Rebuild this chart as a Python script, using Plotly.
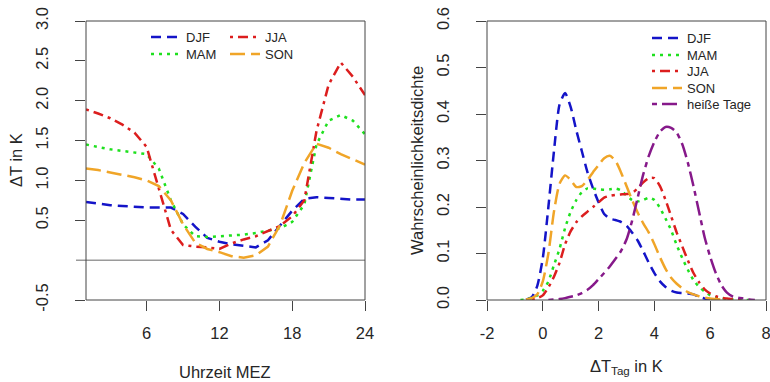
import plotly.graph_objects as go

# ---------------- data: left panel (diurnal cycle) ----------------
hours = list(range(1, 25))
djf_day = [0.73, 0.71, 0.69, 0.68, 0.67, 0.66, 0.66, 0.66, 0.58, 0.42, 0.28, 0.23,
           0.20, 0.18, 0.16, 0.25, 0.44, 0.62, 0.77, 0.79, 0.78, 0.77, 0.76, 0.76]
mam_day = [1.45, 1.42, 1.39, 1.37, 1.35, 1.33, 1.15, 0.75, 0.45, 0.30, 0.29, 0.30,
           0.31, 0.32, 0.34, 0.37, 0.40, 0.48, 0.70, 1.45, 1.75, 1.82, 1.75, 1.58]
jja_day = [1.89, 1.84, 1.78, 1.70, 1.60, 1.42, 0.90, 0.38, 0.19, 0.17, 0.16, 0.14,
           0.21, 0.26, 0.30, 0.36, 0.43, 0.55, 0.75, 1.62, 2.20, 2.48, 2.30, 2.07]
son_day = [1.15, 1.13, 1.10, 1.07, 1.04, 1.00, 0.93, 0.75, 0.45, 0.22, 0.14, 0.10,
           0.05, 0.03, 0.06, 0.17, 0.44, 0.87, 1.22, 1.46, 1.41, 1.33, 1.27, 1.20]

# ---------------- data: right panel (density) ----------------
dT = [-0.8, -0.6, -0.4, -0.2, 0.0, 0.2, 0.4, 0.6, 0.8, 1.0, 1.2, 1.4, 1.6, 1.8,
      2.0, 2.2, 2.4, 2.6, 2.8, 3.0, 3.2, 3.4, 3.6, 3.8, 4.0, 4.2, 4.4, 4.6, 4.8,
      5.0, 5.2, 5.4, 5.6, 5.8, 6.0, 6.2, 6.4, 6.6, 6.8, 7.0, 7.2, 7.4, 7.6]
djf_pdf = [None, 0.001, 0.006, 0.03, 0.09, 0.20, 0.32, 0.42, 0.445, 0.415, 0.365, 0.32,
           0.275, 0.24, 0.21, 0.185, 0.175, 0.172, 0.168, 0.16, 0.145, 0.128, 0.105,
           0.08, 0.058, 0.04, 0.028, 0.02, 0.016, 0.015, 0.014, 0.012, 0.007, 0.003,
           0.001, None, None, None, None, None, None, None, None]
mam_pdf = [0.0, 0.001, 0.004, 0.01, 0.02, 0.04, 0.075, 0.11, 0.155, 0.19, 0.215, 0.232,
           0.24, 0.24, 0.238, 0.237, 0.238, 0.24, 0.236, 0.225, 0.215, 0.212, 0.215,
           0.22, 0.215, 0.198, 0.175, 0.15, 0.118, 0.09, 0.065, 0.043, 0.028, 0.018,
           0.01, 0.006, 0.004, 0.002, 0.001, 0.001, 0.0, 0.0, 0.0]
jja_pdf = [None, None, 0.001, 0.004, 0.01, 0.027, 0.05, 0.08, 0.12, 0.148, 0.167, 0.18,
           0.19, 0.20, 0.21, 0.22, 0.224, 0.226, 0.227, 0.228, 0.23, 0.24, 0.253,
           0.262, 0.262, 0.245, 0.215, 0.18, 0.145, 0.115, 0.085, 0.058, 0.038, 0.023,
           0.014, 0.008, 0.005, 0.003, 0.002, 0.001, 0.0, None, None]
son_pdf = [None, 0.001, 0.004, 0.012, 0.04, 0.10, 0.19, 0.25, 0.268, 0.258, 0.243, 0.245,
           0.258, 0.275, 0.29, 0.305, 0.31, 0.30, 0.275, 0.245, 0.215, 0.188, 0.165,
           0.145, 0.12, 0.092, 0.067, 0.048, 0.035, 0.025, 0.017, 0.012, 0.008, 0.005,
           0.003, 0.002, 0.001, None, None, None, None, None, None]
hot_pdf = [None, None, None, None, None, 0.0, 0.001, 0.002, 0.004, 0.007, 0.01, 0.015,
           0.022, 0.032, 0.045, 0.058, 0.072, 0.088, 0.105, 0.13, 0.17, 0.22, 0.27,
           0.31, 0.34, 0.362, 0.372, 0.37, 0.36, 0.335, 0.295, 0.245, 0.19, 0.135,
           0.093, 0.058, 0.032, 0.016, 0.008, 0.005, 0.003, 0.001, 0.0]

left_yticks = [-0.5, 0.5, 1.0, 1.5, 2.0, 2.5, 3.0]
left_xticks = [6, 12, 18, 24]
right_xticks = [-2, 0, 2, 4, 6, 8]
right_yticks = [0.0, 0.1, 0.2, 0.3, 0.4, 0.5, 0.6]

# ---------------- styles ----------------
W, H = 770, 382
FONT = "Liberation Sans, Arial, sans-serif"
TXT = "#262626"
AX = "#444444"
C_DJF, C_MAM, C_JJA, C_SON, C_HOT = "#1414C8", "#1EE01E", "#DC1E1E", "#F0A528", "#86198A"
D_DJF, D_MAM, D_JJA, D_SON, D_HOT = "10px,6px", "3px,5px", "3px,5px,10px,5px", "15px,6px", "5px,5px,15px,5px"
LW = 2.5


def px_x(p):
    return p / W


def px_y(p):
    return (H - p) / H


fig = go.Figure()
legend_layout = {}


def make_legend(key, text_x, center_y):
    legend_layout[key] = dict(x=px_x(text_x - 45), y=px_y(center_y), xanchor="left",
                              yanchor="middle", bgcolor="rgba(0,0,0,0)",
                              font=dict(family=FONT, size=13, color=TXT),
                              tracegroupgap=0, itemwidth=30)


# left panel (two-column legend)
left_series = [("DJF", djf_day, C_DJF, D_DJF, 191, 37),
               ("MAM", mam_day, C_MAM, D_MAM, 191, 54),
               ("JJA", jja_day, C_JJA, D_JJA, 270, 37),
               ("SON", son_day, C_SON, D_SON, 270, 54)]
n = 1
for name, vals, col, dash, tx, ty in left_series:
    key = "legend" if n == 1 else f"legend{n}"
    make_legend(key, tx, ty)
    fig.add_trace(go.Scatter(x=hours, y=vals, mode="lines", name=name,
                             line=dict(color=col, width=LW, dash=dash),
                             xaxis="x", yaxis="y", legend=key))
    n += 1

# right panel
right_series = [("DJF", djf_pdf, C_DJF, D_DJF, 38),
                ("MAM", mam_pdf, C_MAM, D_MAM, 55),
                ("JJA", jja_pdf, C_JJA, D_JJA, 71),
                ("SON", son_pdf, C_SON, D_SON, 88),
                ("heiße Tage", hot_pdf, C_HOT, D_HOT, 104)]
for name, vals, col, dash, ty in right_series:
    key = f"legend{n}"
    make_legend(key, 692, ty)
    fig.add_trace(go.Scatter(x=dT, y=vals, mode="lines", name=name,
                             line=dict(color=col, width=LW, dash=dash, shape="spline", smoothing=0.6),
                             connectgaps=False, xaxis="x2", yaxis="y2", legend=key))
    n += 1

LEFT_BOX = (86, 365)
RIGHT_BOX = (487, 766)
TOP, BOTTOM = 21, 300
ydom = [px_y(BOTTOM), px_y(TOP)]
axis_common = dict(showline=False, ticks="outside", ticklen=10, tickcolor=AX, tickwidth=1,
                   showgrid=False, zeroline=False, automargin=False, ticklabeloverflow="allow",
                   tickfont=dict(family=FONT, size=16.5, color=TXT))

fig.update_layout(
    width=W, height=H, margin=dict(l=0, r=0, t=0, b=0, autoexpand=False),
    paper_bgcolor="white", plot_bgcolor="white", showlegend=True,
    xaxis=dict(domain=[px_x(LEFT_BOX[0]), px_x(LEFT_BOX[1])], range=[1, 24], tickvals=left_xticks,
               ticklabelstandoff=8, anchor="y", **axis_common),
    yaxis=dict(domain=ydom, range=[-0.5, 3.0], tickvals=left_yticks,
               ticktext=[f"{v:.1f}" for v in left_yticks], tickangle=-90,
               ticklabelstandoff=20, anchor="x", **axis_common),
    xaxis2=dict(domain=[px_x(RIGHT_BOX[0]), px_x(RIGHT_BOX[1])], range=[-2, 8], tickvals=right_xticks,
                ticktext=[str(v) for v in right_xticks], ticklabelstandoff=8,
                anchor="y2", **axis_common),
    yaxis2=dict(domain=ydom, range=[0, 0.6], tickvals=right_yticks,
                ticktext=[f"{v:.1f}" for v in right_yticks], tickangle=-90,
                ticklabelstandoff=20, anchor="x2", **axis_common),
    **legend_layout,
)

# plot frames (box around each panel), paper-referenced so they are not clipped
for x0, x1 in [LEFT_BOX, RIGHT_BOX]:
    fig.add_shape(type="rect", xref="paper", yref="paper",
                  x0=px_x(x0), x1=px_x(x1), y0=px_y(BOTTOM), y1=px_y(TOP),
                  line=dict(color=AX, width=1), fillcolor="rgba(0,0,0,0)", layer="above")

# grey zero line in left panel
fig.add_shape(type="line", xref="paper", yref="y", x0=px_x(76), x1=px_x(365), y0=0, y1=0,
              line=dict(color="#9a9a9a", width=1.5), layer="below")

# axis titles
ann = dict(showarrow=False, font=dict(family=FONT, size=16.5, color=TXT), xref="paper", yref="paper",
           xanchor="center", yanchor="middle")
fig.add_annotation(text="ΔT in K", x=px_x(16), y=px_y(160), textangle=-90, **ann)
fig.add_annotation(text="Uhrzeit MEZ", x=px_x(225), y=px_y(372), **ann)
fig.add_annotation(text="Wahrscheinlichkeitsdichte", x=px_x(417), y=px_y(161), textangle=-90, **ann)
fig.add_annotation(text="ΔT<sub>Tag</sub> in K", x=px_x(626), y=px_y(367), **ann)

# remove the default page margin so the 770x382 figure fills the window exactly
fig.write_html("out.html", config={"displayModeBar": False},
               post_script="document.body.style.margin='0';document.body.style.overflow='hidden';")
